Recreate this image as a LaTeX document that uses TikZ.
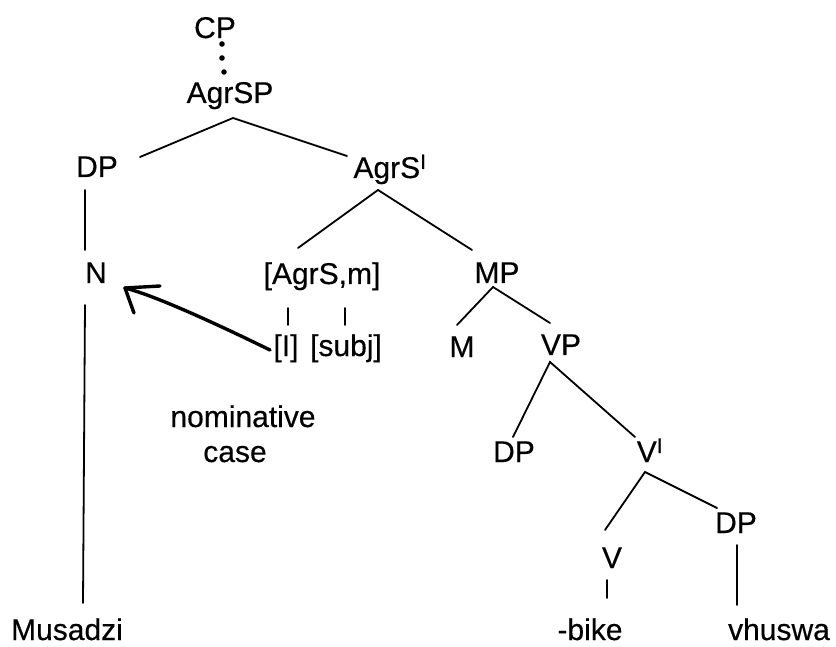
\documentclass[tikz,border=0pt]{standalone}
\usepackage{fontspec}
\setmainfont[FakeBold=0.4]{Liberation Sans}
\usetikzlibrary{calc}
\tikzset{
  lbl/.style={anchor=base,inner sep=0pt,font=\fontsize{30}{32}\selectfont},
  branch/.style={line width=1.8pt,line cap=round},
  handarrow/.style={line width=3.4pt,line cap=round,line join=round},
  dotm/.style={fill=black}
}
\begin{document}
\begin{tikzpicture}[x=1pt,y=-1pt]
\useasboundingbox (0,0) rectangle (836,647);
% nodes
\node[lbl] (CP) at (215,38) {CP};
\node[lbl] (AgrSP) at (230,103) {AgrSP};
\node[lbl] (DPa) at (97,177) {DP};
\node[lbl] (AgrSbar) at (390,178) {AgrS\textsuperscript{I}};
\node[lbl] (N) at (96,283) {N};
\node[lbl] (AgrSm) at (322,284) {[AgrS,m]};
\node[lbl] (MP) at (497,283) {MP};
\node[lbl] (Il) at (286,356) {[I]};
\node[lbl] (subj) at (346,356) {[subj]};
\node[lbl] (M) at (462,357) {M};
\node[lbl] (VP) at (561,355) {VP};
\node[lbl] (DPb) at (514,462) {DP};
\node[lbl] (Vbar) at (650,462) {V\textsuperscript{I}};
\node[lbl] (DPc) at (736,533) {DP};
\node[lbl] (V) at (612,568) {V};
\node[lbl] (Musadzi) at (67,640) {Musadzi};
\node[lbl] (bike) at (590,640) {-bike};
\node[lbl] (vhuswa) at (779,640) {vhuswa};
\node[lbl] (nom) at (243,427) {nominative};
\node[lbl] (case) at (235,462) {case};
% dotted link CP - AgrSP
\fill[dotm] ($(CP.base)+(7,6)$) circle (2.8);
\fill[dotm] ($(CP.base)+(7,20)$) circle (2.8);
\fill[dotm] ($(CP.base)+(9,34)$) circle (2.8);
% branches
\draw[branch] ($(DPa.base)+(43,-20)$) -- ($(AgrSP.base)+(3,15)$) -- ($(AgrSbar.base)+(-43,-22)$);
\draw[branch] ($(DPa.base)+(-12,13)$) -- ($(N.base)+(-11,-33)$);
\draw[branch] ($(N.base)+(-11,22)$) -- ($(Musadzi.base)+(16,-37)$);
\draw[branch] ($(AgrSm.base)+(-24,-36)$) -- ($(AgrSbar.base)+(-12,12)$) -- ($(MP.base)+(-25,-33)$);
\draw[branch] ($(AgrSm.base)+(-34,24)$) -- ($(Il.base)+(2,-31)$);
\draw[branch] ($(AgrSm.base)+(23,24)$) -- ($(subj.base)+(-1,-31)$);
\draw[branch] ($(M.base)+(-5,-32)$) -- ($(MP.base)+(-4,4)$) -- ($(VP.base)+(-11,-32)$);
\draw[branch] ($(DPb.base)+(-1,-25)$) -- ($(VP.base)+(-11,7)$) -- ($(Vbar.base)+(-15,-25)$);
\draw[branch] ($(V.base)+(-7,-38)$) -- ($(Vbar.base)+(-5,10)$) -- ($(DPc.base)+(-19,-25)$);
\draw[branch] ($(V.base)+(-5,12)$) -- ($(bike.base)+(17,-42)$);
\draw[branch] ($(DPc.base)+(1,12)$) -- ($(vhuswa.base)+(-42,-35)$);
% hand-drawn arrow from [I] to N
\coordinate (tip) at ($(N.base)+(29,5)$);
\draw[handarrow] ($(Il.base)+(-16,-6)$) .. controls +(-45,-22) and +(32,8) .. (tip);
\draw[handarrow] (tip) -- +(35,-2);
\draw[handarrow] (tip) -- +(9,25);
\end{tikzpicture}
\end{document}
